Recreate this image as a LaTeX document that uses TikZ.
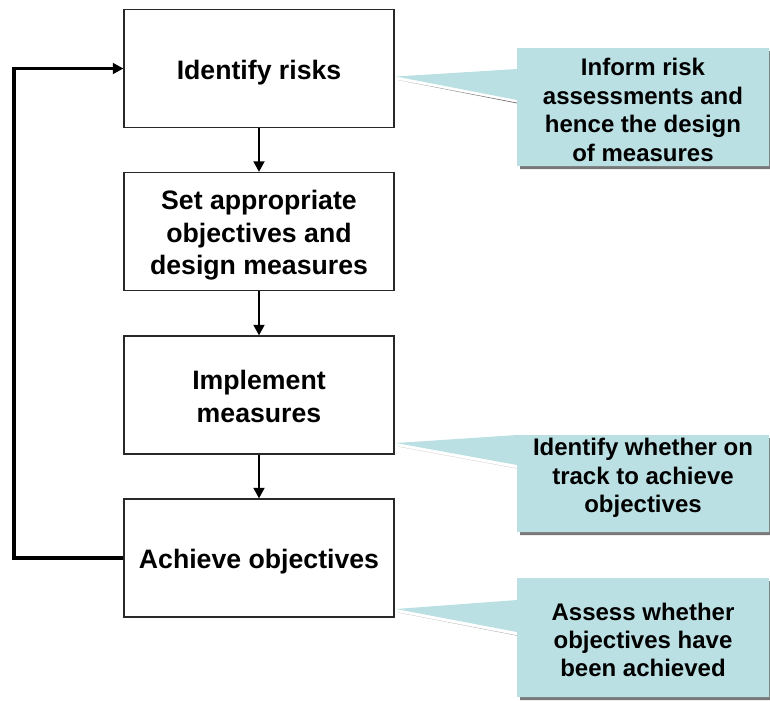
\documentclass[tikz,border=0pt]{standalone}
\usepackage{fontspec}
\setmainfont{Liberation Sans}
\usetikzlibrary{arrows.meta}
\definecolor{callfill}{RGB}{187,224,227}
\definecolor{shadowgray}{RGB}{120,120,120}
\definecolor{boxline}{RGB}{40,40,40}
\tikzset{
  stepbox/.style={draw=boxline, line width=0.8pt, fill=white, rectangle,
    minimum width=202.5pt, minimum height=88.5pt, inner sep=0pt, align=center,
    font=\fontsize{20}{24.4}\selectfont\bfseries},
  steptext/.style={inner sep=0pt, align=center, font=\fontsize{20}{24.4}\selectfont\bfseries},
  calltext/.style={inner sep=0pt, align=center, font=\fontsize{18}{21.3}\selectfont\bfseries},
  flow/.style={line width=2.2pt, -{Triangle[length=8pt,width=8pt]}},
  callshadow/.style={fill=shadowgray},
  callbody/.style={fill=callfill}
}
\begin{document}
\begin{tikzpicture}[x=0.75pt,y=-0.75pt]
\useasboundingbox (0,0) rectangle (770,700);
% callout 1
\coordinate (t1) at (396,76.5);
\fill[callshadow] ([shift={(2,3.5)}]t1) -- (519,103) -- (519,69) -- (520,69) -- (520,51) -- (772,51) -- (772,169) -- (520,169) -- (520,104) -- cycle;
\fill[callbody] (t1) -- (517,69) -- (517,48) -- (769,48) -- (769,166) -- (517,166) -- (517,100) -- cycle;
\node[calltext] (c1) at (643,110) {Inform risk\\assessments and\\hence the design\\of measures};
% callout 2
\coordinate (t2) at (396,443);
\fill[callshadow] ([shift={(2,3.5)}]t2) -- (520,469) -- (520,438) -- (772,438) -- (772,535) -- (520,535) -- (520,469) -- cycle;
\fill[callbody] (t2) -- (517,435) -- (769,435) -- (769,532) -- (517,532) -- (517,465) -- cycle;
\node[calltext] (c2) at (643,478) {Identify whether on\\track to achieve\\objectives};
% callout 3
\coordinate (t3) at (396,609);
\fill[callshadow] ([shift={(2,3.5)}]t3) -- (519,636) -- (519,603) -- (520,603) -- (520,581) -- (772,581) -- (772,700) -- (520,700) -- (520,636) -- cycle;
\fill[callbody] (t3) -- (517,600) -- (517,578) -- (769,578) -- (769,697) -- (517,697) -- (517,632) -- cycle;
\node[calltext] (c3) at (643,640) {Assess whether\\objectives have\\been achieved};
% process boxes
\node[stepbox] (b1) at (259,68.5) {};
\node[stepbox] (b2) at (259,231.5) {};
\node[stepbox] (b3) at (259,395) {};
\node[stepbox] (b4) at (259,558) {};
\node[steptext] (l1) at ([yshift=-3pt]b1.center) {Identify risks};
\node[steptext] (l2) at ([yshift=-3pt]b2.center) {Set appropriate\\objectives and\\design measures};
\node[steptext] (l3) at ([yshift=-1pt]b3.center) {Implement\\measures};
\node[steptext] (l4) at ([yshift=-2.5pt]b4.center) {Achieve objectives};
% flow arrows
\draw[flow] (b1.south) -- (b2.north);
\draw[flow] (b2.south) -- (b3.north);
\draw[flow] (b3.south) -- (b4.north);
% feedback loop
\coordinate (fb) at (14,558);
\coordinate (ft) at (14,68.5);
\draw[line width=2.5pt, -{Triangle[length=8pt,width=8pt]}, line join=miter] (b4.west) -- (fb) -- (ft) -- (b1.west);
\end{tikzpicture}
\end{document}
